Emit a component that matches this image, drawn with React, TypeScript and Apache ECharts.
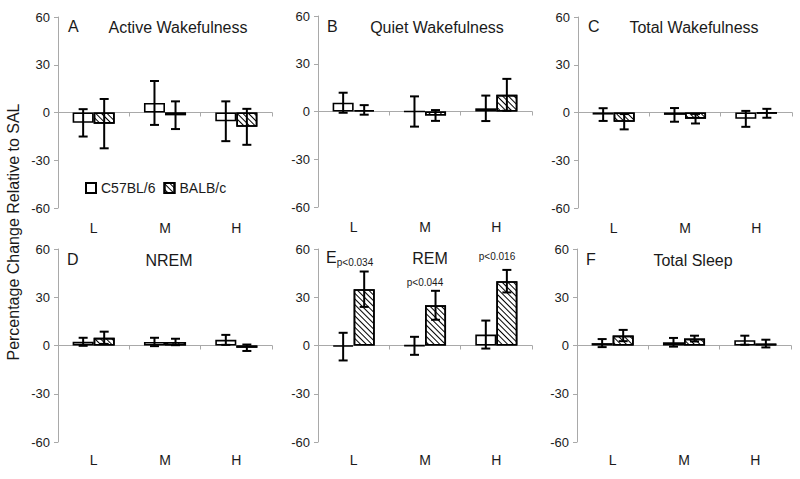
import React, { useEffect, useRef } from "react";
import * as echarts from "echarts";

const categories = ["L", "M", "H"];
const panelLetters = ["A", "B", "C", "D", "E", "F"];
const panelTitles = ["Active Wakefulness", "Quiet Wakefulness", "Total Wakefulness", "NREM", "REM", "Total Sleep"];
const seriesNames = ["C57BL/6", "BALB/c"];

// mean values per panel (L, M, H)
const c57Mean = [
  [-6.5, 6, -5.5],
  [5.5, 0, 2],
  [-1.3, -1.5, -4],
  [2.3, 2.2, 3.5],
  [-0.7, -0.2, 6.8],
  [1.5, 2, 3.3],
];
const c57Err = [
  [8.6, 13.8, 12.5],
  [6.3, 9.5, 8],
  [4, 4.3, 5],
  [2.5, 2.6, 3.1],
  [8.6, 5.6, 8.7],
  [2.5, 2.7, 2.8],
];
const balbMean = [
  [-7, -1.7, -9],
  [1, -2.5, 10.5],
  [-5.8, -3.9, -0.5],
  [4.8, 2.2, -1.4],
  [35, 25, 40],
  [6.2, 4.3, 1.2],
];
const balbErr = [
  [15.5, 8.7, 11.3],
  [3, 3.4, 10],
  [4.8, 3, 2.8],
  [3.8, 2, 2],
  [11, 9, 7],
  [3.5, 1.8, 2.4],
];
const yTicks = { min: -60, max: 60, interval: 30 };
const remPValues = ["p<0.034", "p<0.044", "p<0.016"];

// layout
const gridLeft = [58, 318, 578, 58, 318, 577];
const gridTop = [17, 16, 17, 249, 249, 249];
const gridWidth = 214;
const gridHeight = [191, 191, 191, 193, 193, 193];
const titleX = [178, 437, 694, 169, 430, 693];
const letterX = [74, 333, 594, 73, 332, 592];
const titleY = [27, 27, 27, 260, 258, 260];

const FONT = "'Liberation Sans', Arial, sans-serif";
const AXIS_GRAY = "#a9a9a9";
const TEXT = "#1a1a1a";
const CAT_GAP = 0.41;

const hatch = {
  symbol: "rect",
  symbolSize: 1,
  color: "#000",
  dashArrayX: [1, 0],
  dashArrayY: [1, 2.3],
  rotation: Math.PI / 4,
};

export default function App() {
  const ref = useRef<HTMLDivElement>(null);
  useEffect(() => {
    if (!ref.current) return;
    const chart = echarts.init(ref.current, null, { renderer: "svg" });

    const grid: any[] = [];
    const xAxis: any[] = [];
    const yAxis: any[] = [];
    const series: any[] = [];
    const graphic: any[] = [];

    for (let p = 0; p < 6; p++) {
      grid.push({ left: gridLeft[p], top: gridTop[p], width: gridWidth, height: gridHeight[p] });
      // label axis at bottom
      xAxis.push({
        type: "category",
        gridIndex: p,
        data: categories,
        position: "bottom",
        axisLine: { show: false, onZero: false },
        axisTick: { show: false },
        axisLabel: { margin: p < 3 ? 13 : 11, fontSize: 14, color: TEXT, fontFamily: FONT },
      });
      // line axis at zero
      xAxis.push({
        type: "category",
        gridIndex: p,
        data: categories,
        position: "bottom",
        axisLine: { show: true, onZero: true, lineStyle: { color: AXIS_GRAY, width: 1 } },
        axisTick: { show: true, length: 4, lineStyle: { color: AXIS_GRAY } },
        axisLabel: { show: false },
      });
      yAxis.push({
        type: "value",
        gridIndex: p,
        min: yTicks.min,
        max: yTicks.max,
        interval: yTicks.interval,
        axisLine: { show: true, lineStyle: { color: AXIS_GRAY, width: 1 } },
        axisTick: { show: true, length: 4, lineStyle: { color: AXIS_GRAY } },
        splitLine: { show: false },
        axisLabel: { margin: 8, fontSize: 13, color: TEXT, fontFamily: FONT },
      });

      const means = [c57Mean[p], balbMean[p]];
      const errs = [c57Err[p], balbErr[p]];
      for (let s = 0; s < 2; s++) {
        series.push({
          type: "bar",
          name: seriesNames[s],
          xAxisIndex: 2 * p + 1,
          yAxisIndex: p,
          data: means[s],
          barGap: "0%",
          barCategoryGap: CAT_GAP * 100 + "%",
          itemStyle: {
            color: "#fff",
            borderColor: "#000",
            borderWidth: 1.6,
            decal: s === 1 ? hatch : undefined,
          },
          z: 2,
        });
      }
      const errData: any[] = [];
      for (let s = 0; s < 2; s++) {
        for (let c = 0; c < 3; c++) {
          errData.push([c, means[s][c], errs[s][c], s === 0 ? -1 : 1]);
        }
      }
      series.push({
        type: "custom",
        xAxisIndex: 2 * p + 1,
        yAxisIndex: p,
        data: errData,
        z: 5,
        silent: true,
        encode: { x: 0, y: 1 },
        renderItem: (params: any, api: any) => {
          const ci = api.value(0);
          const v = api.value(1);
          const e = api.value(2);
          const side = api.value(3);
          const band = api.size([1, 0])[0];
          const bw = (band * (1 - CAT_GAP)) / 2;
          const cx = api.coord([ci, v])[0] + (side * bw) / 2;
          const yt = api.coord([ci, v + e])[1];
          const yb = api.coord([ci, v - e])[1];
          const cap = 4.5;
          const st = { stroke: "#000", lineWidth: 2 };
          return {
            type: "group",
            children: [
              { type: "line", shape: { x1: cx, y1: yt, x2: cx, y2: yb }, style: st },
              { type: "line", shape: { x1: cx - cap, y1: yt, x2: cx + cap, y2: yt }, style: st },
              { type: "line", shape: { x1: cx - cap, y1: yb, x2: cx + cap, y2: yb }, style: st },
            ],
          };
        },
      });

      graphic.push({
        type: "text",
        left: letterX[p] - 6,
        top: titleY[p] - 9,
        style: { text: panelLetters[p], fontSize: 16, fill: TEXT, font: `16px ${FONT}` },
      });
      graphic.push({
        type: "text",
        x: titleX[p],
        y: titleY[p],
        style: {
          text: panelTitles[p],
          font: `16px ${FONT}`,
          fill: TEXT,
          align: "center",
          verticalAlign: "middle",
        },
      });
    }

    // REM p-values
    const pPos = [
      [355, 262],
      [425, 282],
      [497, 256],
    ];
    for (let i = 0; i < 3; i++) {
      graphic.push({
        type: "text",
        x: pPos[i][0],
        y: pPos[i][1],
        style: {
          text: remPValues[i],
          font: `10px ${FONT}`,
          fill: TEXT,
          align: "center",
          verticalAlign: "middle",
        },
      });
    }

    graphic.push({
      type: "text",
      x: 13,
      y: 232,
      rotation: Math.PI / 2,
      style: {
        text: "Percentage Change Relative to SAL",
        font: `16px ${FONT}`,
        fill: TEXT,
        align: "center",
        verticalAlign: "middle",
      },
    });

    chart.setOption({
      animation: false,
      backgroundColor: "#fff",
      grid,
      xAxis,
      yAxis,
      series,
      graphic,
      legend: {
        data: seriesNames,
        left: 80,
        top: 176,
        icon: "rect",
        itemWidth: 10,
        itemHeight: 10,
        itemGap: 8,
        textStyle: { fontSize: 14, color: TEXT, fontFamily: FONT },
      },
    });
    return () => chart.dispose();
  }, []);
  return (
    <div
      ref={ref}
      style={{ position: "fixed", left: 0, top: 0, width: 800, height: 479, background: "#fff" }}
    />
  );
}
